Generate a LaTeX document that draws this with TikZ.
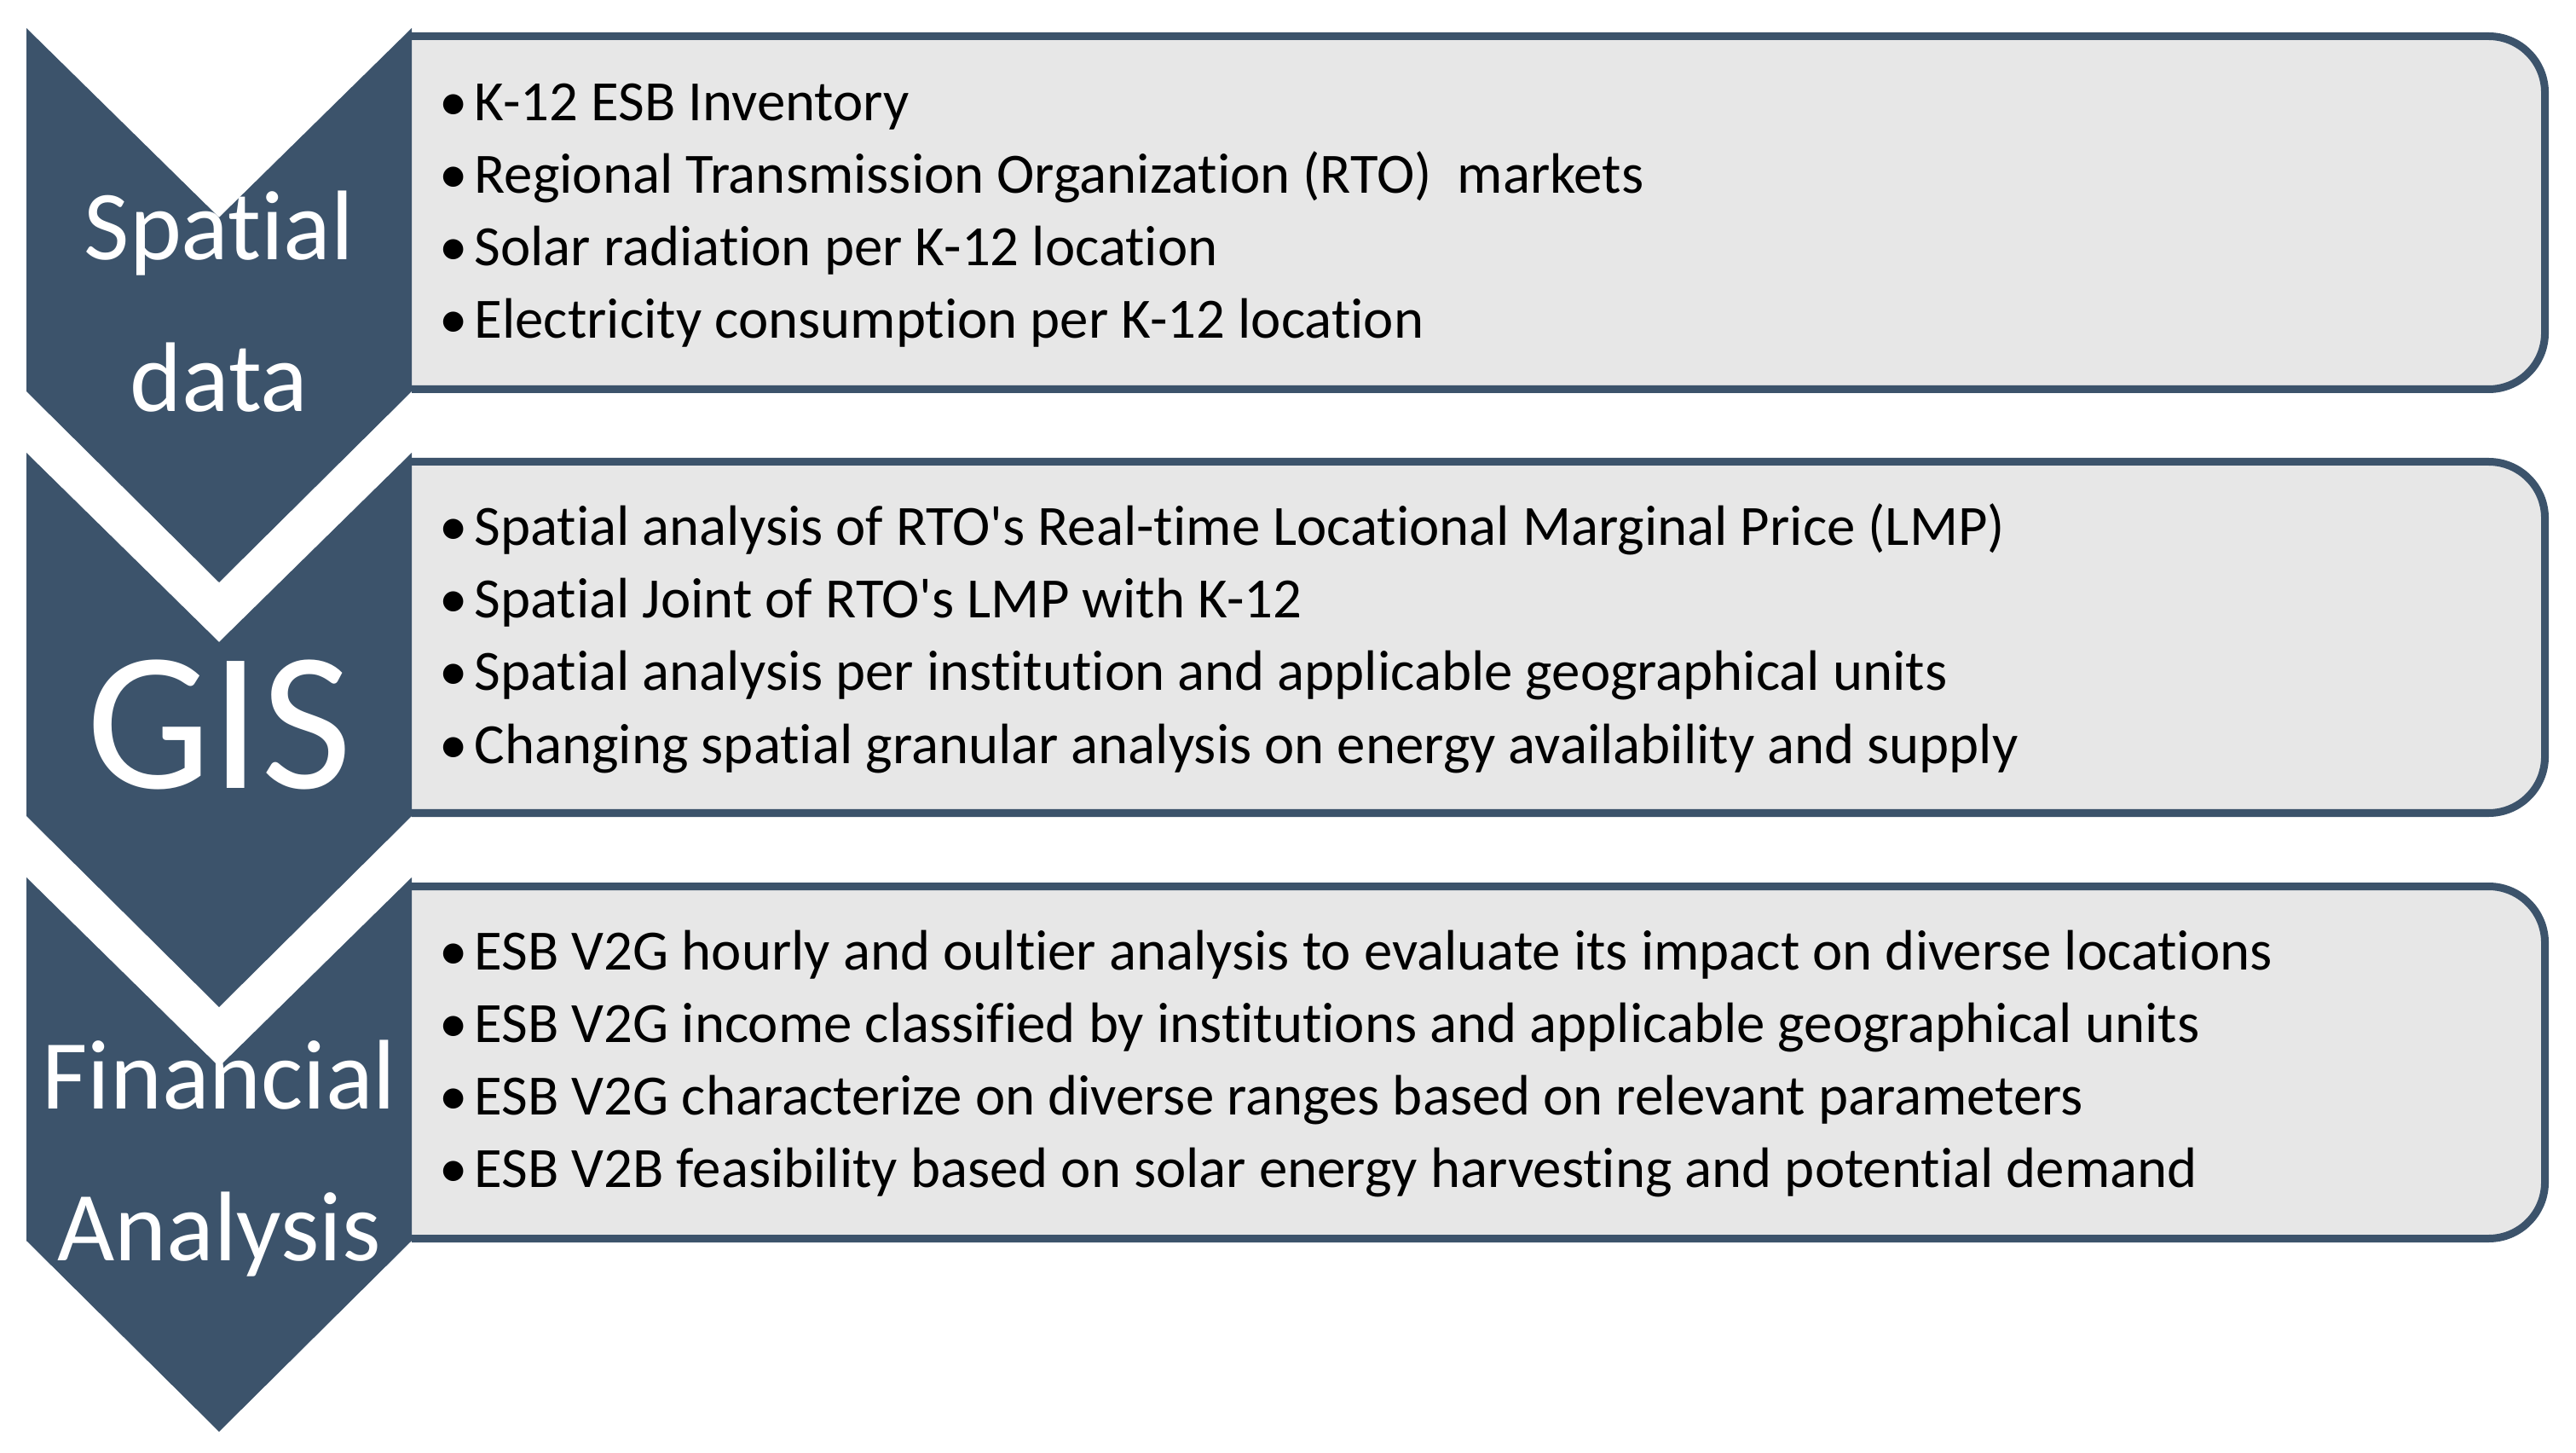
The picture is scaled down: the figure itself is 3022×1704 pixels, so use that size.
\documentclass[tikz,border=0pt]{standalone}
\usepackage{fontspec}
\setmainfont{Carlito}[Ligatures={NoCommon}]
\definecolor{chevblue}{RGB}{60,83,107}
\definecolor{panelgray}{RGB}{231,231,231}
\tikzset{chevron/.style={fill=chevblue}}
\tikzset{panel/.style={draw=chevblue, fill=panelgray, line width=0.09cm, rounded corners=0.66cm}}
\tikzset{item/.style={anchor=base west, inner sep=0pt, font=\fontsize{19}{22}\selectfont}}
\tikzset{headline/.style={anchor=base, inner sep=0pt, text=white, font=\fontsize{33}{40}\selectfont}}
\newcommand{\bul}{\llap{\textbullet\hspace{0.08cm}}}

\begin{document}
\begin{tikzpicture}[x=0.01cm, y=-0.01cm]
  \useasboundingbox (0,0) rectangle (3022,1704);

  \filldraw[panel] (483,42.5) -- (2985.5,42.5) -- (2985.5,456.5) -- (483,456.5);
  \filldraw[panel] (483,541.5) -- (2985.5,541.5) -- (2985.5,953.5) -- (483,953.5);
  \filldraw[panel] (483,1039.5) -- (2985.5,1039.5) -- (2985.5,1452.5) -- (483,1452.5);

  \fill[chevron] (31,33) -- (257,255) -- (483,33) -- (483,459) -- (257,683) -- (31,459) -- cycle;
  \fill[chevron] (31,531) -- (257,753) -- (483,531) -- (483,957) -- (257,1181) -- (31,957) -- cycle;
  \fill[chevron] (31,1029) -- (257,1251) -- (483,1029) -- (483,1455) -- (257,1679) -- (31,1455) -- cycle;

  \node[headline] (spatial) at (257,305) {Spatial};
  \node[headline] (data) at (257,483) {data};
  \node[headline, font=\fontsize{66}{72}\selectfont] (gis) at (257,924) {GIS};
  \node[headline] (financial) at (257,1300) {Financial};
  \node[headline] (analysis) at (257,1478) {Analysis};

  \node[item] (sd1) at (556,142) {\bul K-12 ESB Inventory};
  \node[item] (sd2) at (556,227) {\bul Regional Transmission Organization (RTO)~ markets};
  \node[item] (sd3) at (556,312) {\bul Solar radiation per K-12 location};
  \node[item] (sd4) at (556,397) {\bul Electricity consumption per K-12 location};

  \node[item] (gis1) at (556,640) {\bul Spatial analysis of RTO\textquotesingle s Real-time Locational Marginal Price (LMP)};
  \node[item] (gis2) at (556,725) {\bul Spatial Joint of RTO\textquotesingle s LMP with K-12};
  \node[item] (gis3) at (556,810) {\bul Spatial analysis per institution and applicable geographical units};
  \node[item] (gis4) at (556,895) {\bul Changing spatial granular analysis on energy availability and supply};

  \node[item] (fa1) at (556,1137) {\bul ESB V2G hourly and oultier analysis to evaluate its impact on diverse locations};
  \node[item] (fa2) at (556,1222) {\bul ESB V2G income classified by institutions and applicable geographical units};
  \node[item] (fa3) at (556,1307) {\bul ESB V2G characterize on diverse ranges based on relevant parameters};
  \node[item] (fa4) at (556,1392) {\bul ESB V2B feasibility based on solar energy harvesting and potential demand};
\end{tikzpicture}
\end{document}
